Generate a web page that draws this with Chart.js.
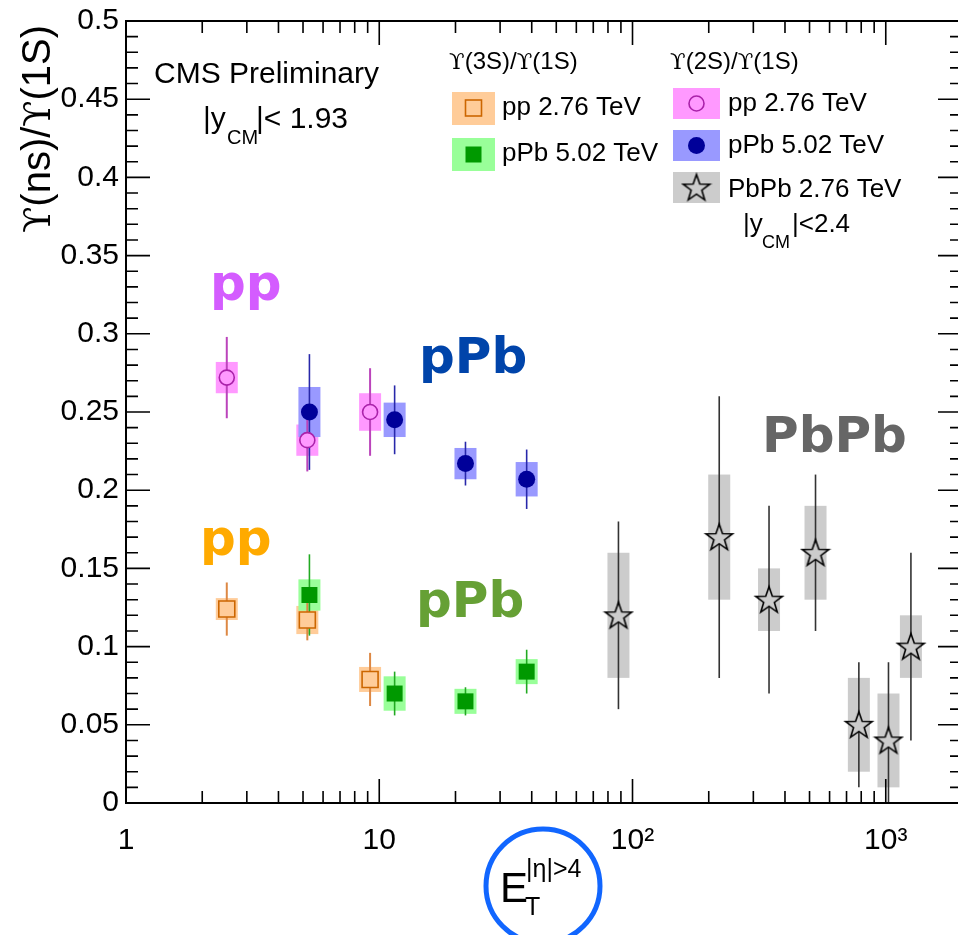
<!DOCTYPE html>
<html lang="en">
    <head>
        <meta charset="UTF-8" />
        <title>Upsilon ratios vs ET</title>
        <script src="https://cdn.jsdelivr.net/npm/chart.js@4.4.1/dist/chart.umd.min.js"></script>
        <style>
            html, body { margin: 0; padding: 0; background: #fff; overflow: hidden; }
            #wrap { width: 958px; height: 935px; overflow: hidden; }
        </style>
    </head>
    <body>
        <div id="wrap"><canvas id="chart" width="962" height="935"></canvas></div>
        <script>
            // x positions (E_T, GeV)
            const ppX = [2.5, 5.2, 9.2];
            const pPbX = [5.3, 11.5, 21.9, 38.2];
            const PbPbX = [88, 220, 346, 528, 783, 1025, 1257];

            // Y(2S)/Y(1S)
            const pp2S = [0.272, 0.232, 0.250];
            const pp2SStat = [0.026, 0.020, 0.028];
            const pp2SSyst = [0.010, 0.010, 0.012];

            const pPb2S = [0.250, 0.245, 0.217, 0.207];
            const pPb2SStat = [0.037, 0.022, 0.014, 0.019];
            const pPb2SSyst = [0.016, 0.011, 0.010, 0.011];

            const PbPb2S = [0.12, 0.17, 0.13, 0.16, 0.05, 0.04, 0.10];
            const PbPb2SStat = [0.06, 0.09, 0.06, 0.05, 0.04, 0.05, 0.06];
            const PbPb2SSyst = [0.04, 0.04, 0.02, 0.03, 0.03, 0.03, 0.02];

            // Y(3S)/Y(1S)
            const pp3S = [0.124, 0.117, 0.079];
            const pp3SStat = [0.017, 0.013, 0.017];
            const pp3SSyst = [0.007, 0.009, 0.008];

            const pPb3S = [0.133, 0.070, 0.065, 0.084];
            const pPb3SStat = [0.026, 0.014, 0.009, 0.014];
            const pPb3SSyst = [0.010, 0.011, 0.008, 0.008];

            const xTicks = [1, 10, 100, 1000];
            const xTickLabels = ['1', '10', '10²', '10³'];
            const yTicks = [0, 0.05, 0.1, 0.15, 0.2, 0.25, 0.3, 0.35, 0.4, 0.45, 0.5];
            const yTickLabels = ['0', '0.05', '0.1', '0.15', '0.2', '0.25', '0.3', '0.35', '0.4', '0.45', '0.5'];

            const SANS = '"Liberation Sans", Arial, Helvetica, sans-serif';
            const SERIF = '"DejaVu Serif", serif';
            const BOLD = '"DejaVu Sans", Verdana, sans-serif';

            function makeStar(r, fill){
                const c = document.createElement('canvas');
                const s = Math.ceil(r * 2 + 4);
                c.width = s; c.height = s;
                const g = c.getContext('2d');
                g.beginPath();
                for (let i = 0; i < 10; i++){
                    const a = -Math.PI / 2 + i * Math.PI / 5;
                    const rr = i % 2 ? r * 0.4 : r;
                    g.lineTo(s / 2 + rr * Math.cos(a), s / 2 + 1 + rr * Math.sin(a));
                }
                g.closePath();
                g.fillStyle = fill; g.fill();
                g.lineWidth = 1.6; g.strokeStyle = '#000'; g.stroke();
                return c;
            }
            const star = makeStar(14, '#cccccc');

            const toPts = (xs, ys) => xs.map((x, i) => ({x: x, y: ys[i]}));

            // draw order: gray, orange, green, pink, blue
            const series = [
                {x: PbPbX, y: PbPb2S, stat: PbPb2SStat, syst: PbPb2SSyst, box: '#cccccc', err: '#333333', errW: 1.6,
                 style: {pointStyle: star, pointRadius: 14, backgroundColor: '#cccccc', borderColor: '#000'}},
                {x: ppX, y: pp3S, stat: pp3SStat, syst: pp3SSyst, box: '#ffcc99', err: '#dd8844', errW: 2,
                 style: {pointStyle: 'rect', pointRadius: 11.3, backgroundColor: '#ffcc99', borderColor: '#cc6600', borderWidth: 1.6}},
                {x: pPbX, y: pPb3S, stat: pPb3SStat, syst: pPb3SSyst, box: '#99ff99', err: '#22aa22', errW: 1.6,
                 style: {pointStyle: 'rect', pointRadius: 11.3, backgroundColor: '#009900', borderColor: '#009900', borderWidth: 0}},
                {x: ppX, y: pp2S, stat: pp2SStat, syst: pp2SSyst, box: '#ff99ff', err: '#bb44bb', errW: 2,
                 style: {pointStyle: 'circle', pointRadius: 7.5, backgroundColor: '#ff99ff', borderColor: '#aa22aa', borderWidth: 1.6}},
                {x: pPbX, y: pPb2S, stat: pPb2SStat, syst: pPb2SSyst, box: '#9999ff', err: '#2828aa', errW: 1.6,
                 style: {pointStyle: 'circle', pointRadius: 8.5, backgroundColor: '#000099', borderColor: '#000099', borderWidth: 0}}
            ];

            const errorPlugin = {
                id: 'errors',
                beforeDatasetsDraw(chart){
                    const {ctx, chartArea: a, scales: {x, y}} = chart;
                    ctx.save();
                    ctx.beginPath();
                    ctx.rect(a.left, a.top, a.right - a.left, a.bottom - a.top);
                    ctx.clip();
                    series.forEach(s => {
                        ctx.fillStyle = s.box;
                        s.x.forEach((xv, i) => {
                            const px = x.getPixelForValue(xv);
                            const t = y.getPixelForValue(s.y[i] + s.syst[i]);
                            const b = y.getPixelForValue(s.y[i] - s.syst[i]);
                            ctx.fillRect(px - 11, t, 22, b - t);
                        });
                    });
                    series.forEach(s => {
                        ctx.strokeStyle = s.err;
                        ctx.lineWidth = s.errW;
                        s.x.forEach((xv, i) => {
                            const px = x.getPixelForValue(xv);
                            ctx.beginPath();
                            ctx.moveTo(px, y.getPixelForValue(s.y[i] + s.stat[i]));
                            ctx.lineTo(px, y.getPixelForValue(s.y[i] - s.stat[i]));
                            ctx.stroke();
                        });
                    });
                    ctx.restore();
                }
            };

            function text(ctx, str, x, y, size, color, font){
                ctx.font = size + 'px ' + (font || SANS);
                ctx.fillStyle = color || '#000';
                ctx.fillText(str, x, y);
            }
            function bold(ctx, str, x, y, color){
                ctx.font = 'bold 50px ' + BOLD;
                ctx.fillStyle = color;
                ctx.fillText(str, x, y);
            }
            // text made of pieces, Upsilon drawn in a serif face
            function upsText(ctx, str, x, y, size, alignRight){
                const parts = str.split(/(ϒ)/).filter(p => p);
                const fonts = parts.map(p => p === 'ϒ' ? (size * 0.95) + 'px ' + SERIF : size + 'px ' + SANS);
                let w = 0;
                parts.forEach((p, i) => { ctx.font = fonts[i]; w += ctx.measureText(p).width; });
                let cx = alignRight ? x - w : x;
                ctx.textAlign = 'left';
                ctx.fillStyle = '#000';
                parts.forEach((p, i) => { ctx.font = fonts[i]; ctx.fillText(p, cx, y); cx += ctx.measureText(p).width; });
            }

            const framePlugin = {
                id: 'frame',
                afterDraw(chart){
                    const {ctx, chartArea: a, scales: {x, y}} = chart;
                    ctx.save();
                    ctx.strokeStyle = '#000';
                    ctx.lineWidth = 2;
                    ctx.strokeRect(a.left, a.top, a.right - a.left, a.bottom - a.top);
                    ctx.lineWidth = 1.6;
                    ctx.beginPath();
                    for (let i = 0; i <= 50; i++){
                        const py = y.getPixelForValue(i / 100);
                        const len = i % 5 === 0 ? 24 : 12;
                        ctx.moveTo(a.left, py); ctx.lineTo(a.left + len, py);
                        ctx.moveTo(a.right, py); ctx.lineTo(a.right - len, py);
                    }
                    for (let d = 1; d <= 1000; d *= 10){
                        for (let k = 1; k <= 9; k++){
                            const v = k * d;
                            if (v > 2000) break;
                            const px = x.getPixelForValue(v);
                            const len = k === 1 ? 24 : 12;
                            ctx.moveTo(px, a.bottom); ctx.lineTo(px, a.bottom - len);
                            ctx.moveTo(px, a.top); ctx.lineTo(px, a.top + len);
                        }
                    }
                    ctx.stroke();

                    // y title
                    ctx.save();
                    ctx.translate(50, 25);
                    ctx.rotate(-Math.PI / 2);
                    upsText(ctx, 'ϒ(ns)/ϒ(1S)', 0, 0, 40, true);
                    ctx.restore();

                    // x title
                    ctx.lineWidth = 5;
                    ctx.strokeStyle = '#1166ff';
                    ctx.beginPath();
                    ctx.arc(543, 886, 57, 0, Math.PI * 2);
                    ctx.stroke();
                    text(ctx, 'E', 500, 902, 42);
                    text(ctx, 'T', 525, 915, 25);
                    text(ctx, '|η|>4', 526, 877, 25);

                    // header texts
                    text(ctx, 'CMS Preliminary', 154, 83, 30);
                    text(ctx, '|y', 203, 128, 30);
                    text(ctx, 'CM', 227, 144, 20);
                    text(ctx, '|< 1.93', 256, 128, 30);

                    // legend left: Y(3S)/Y(1S)
                    upsText(ctx, 'ϒ(3S)/ϒ(1S)', 449, 69, 24);
                    ctx.fillStyle = '#ffcc99';
                    ctx.fillRect(452, 92, 43, 33);
                    ctx.fillStyle = '#99ff99';
                    ctx.fillRect(452, 138, 43, 33);
                    ctx.lineWidth = 1.6;
                    ctx.strokeStyle = '#cc6600';
                    ctx.strokeRect(465.5, 100, 16, 16);
                    ctx.fillStyle = '#009900';
                    ctx.fillRect(465.5, 146.5, 16, 16);
                    text(ctx, 'pp 2.76 TeV', 502, 115, 26);
                    text(ctx, 'pPb 5.02 TeV', 502, 161, 26);

                    // legend right: Y(2S)/Y(1S)
                    upsText(ctx, 'ϒ(2S)/ϒ(1S)', 670, 69, 24);
                    ctx.fillStyle = '#ff99ff';
                    ctx.fillRect(673, 88, 47, 31);
                    ctx.fillStyle = '#9999ff';
                    ctx.fillRect(673, 130, 47, 31);
                    ctx.fillStyle = '#cccccc';
                    ctx.fillRect(673, 172, 47, 31);
                    ctx.strokeStyle = '#aa22aa';
                    ctx.beginPath(); ctx.arc(696.5, 103.5, 7.5, 0, Math.PI * 2); ctx.stroke();
                    ctx.fillStyle = '#000099';
                    ctx.beginPath(); ctx.arc(696.5, 145.5, 8.5, 0, Math.PI * 2); ctx.fill();
                    ctx.drawImage(star, 696.5 - star.width / 2, 187.5 - star.height / 2);
                    text(ctx, 'pp 2.76 TeV', 728, 111, 26);
                    text(ctx, 'pPb 5.02 TeV', 728, 153, 26);
                    text(ctx, 'PbPb 2.76 TeV', 728, 197, 26);
                    text(ctx, '|y', 743, 232, 26);
                    text(ctx, 'CM', 762, 248, 18);
                    text(ctx, '|<2.4', 792, 232, 26);

                    // system labels
                    bold(ctx, 'pp', 210, 300, '#d45cff');
                    bold(ctx, 'pPb', 419, 373, '#0044aa');
                    bold(ctx, 'pp', 200, 555, '#ffaa00');
                    bold(ctx, 'pPb', 416, 617, '#66a035');
                    bold(ctx, 'PbPb', 762, 452, '#666666');
                    ctx.restore();
                }
            };

            const ctx = document.getElementById('chart').getContext('2d');
            const chart = new Chart(ctx, {
                type: 'scatter',
                data: {
                    datasets: series.map(s => Object.assign({data: toPts(s.x, s.y)}, s.style))
                },
                options: {
                    responsive: false,
                    animation: false,
                    events: [],
                    layout: {autoPadding: false, padding: {top: 21, right: 0, left: 0, bottom: 0}},
                    plugins: {legend: {display: false}, tooltip: {enabled: false}},
                    scales: {
                        x: {
                            type: 'logarithmic', min: 1, max: 2000,
                            grid: {display: false, drawTicks: false},
                            border: {display: false},
                            afterBuildTicks: s => { s.ticks = xTicks.map(v => ({value: v})); },
                            afterFit: s => { s.height = 132; s.paddingLeft = 0; s.paddingRight = 0; },
                            ticks: {
                                callback: (v, i) => xTickLabels[i],
                                autoSkip: false, maxRotation: 0, padding: 20,
                                color: '#000', font: {family: SANS, size: 30}
                            }
                        },
                        y: {
                            min: 0, max: 0.5,
                            grid: {display: false, drawTicks: false},
                            border: {display: false},
                            afterBuildTicks: s => { s.ticks = yTicks.map(v => ({value: v})); },
                            afterFit: s => { s.width = 126; s.paddingTop = 0; s.paddingBottom = 0; },
                            ticks: {
                                callback: (v, i) => yTickLabels[i],
                                autoSkip: false, padding: 7,
                                color: '#000', font: {family: SANS, size: 30}
                            }
                        }
                    }
                },
                plugins: [errorPlugin, framePlugin]
            });
        </script>
    </body>
</html>
